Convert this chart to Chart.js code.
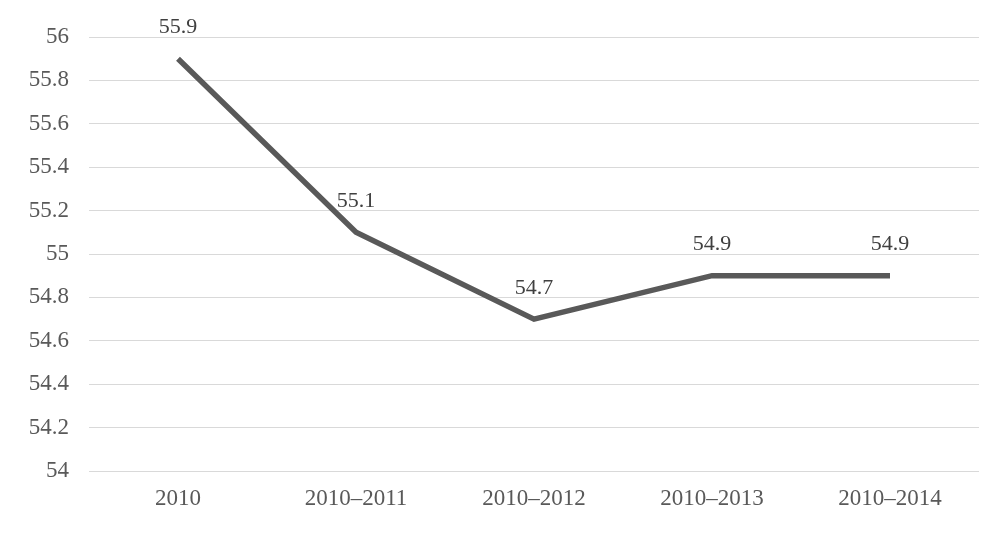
<!DOCTYPE html>
<html>
<head>
<meta charset="utf-8">
<script src="https://cdn.jsdelivr.net/npm/chart.js@4/dist/chart.umd.min.js"></script>
<style>
html,body{margin:0;padding:0;background:#fff;}
#wrap{width:1007px;height:534px;}
</style>
</head>
<body>
<div id="wrap"><canvas id="c" width="1007" height="534"></canvas></div>
<script>
const categories = ['2010', '2010–2011', '2010–2012', '2010–2013', '2010–2014'];
const values = [55.9, 55.1, 54.7, 54.9, 54.9];
const yMin = 54, yMax = 56, yStep = 0.2;

const labelPlugin = {
  id: 'pointLabels',
  afterDatasetsDraw(chart) {
    const ctx = chart.ctx;
    const meta = chart.getDatasetMeta(0);
    ctx.save();
    ctx.font = '22px "Liberation Serif", "Times New Roman", serif';
    ctx.fillStyle = '#404040';
    ctx.textAlign = 'center';
    ctx.textBaseline = 'middle';
    meta.data.forEach((pt, i) => {
      ctx.fillText(String(values[i]), pt.x, pt.y - 31);
    });
    ctx.restore();
  }
};

new Chart(document.getElementById('c'), {
  type: 'line',
  data: {
    labels: categories,
    datasets: [{
      data: values,
      borderColor: '#595959',
      borderWidth: 5.5,
      pointRadius: 0,
      tension: 0,
      borderCapStyle: 'butt',
      borderJoinStyle: 'miter'
    }]
  },
  options: {
    responsive: false,
    animation: false,
    layout: { padding: { top: 37, right: 28, left: 0, bottom: 0 } },
    plugins: { legend: { display: false }, tooltip: { enabled: false } },
    scales: {
      x: {
        offset: true,
        grid: { display: false, drawTicks: false },
        border: { display: false },
        ticks: { color: '#595959', font: { family: '"Liberation Serif", serif', size: 23 }, padding: 14, maxRotation: 0 },
        afterFit(s) { s.height = 63; }
      },
      y: {
        min: yMin, max: yMax,
        grid: { color: '#d9d9d9', lineWidth: 1, drawTicks: false },
        border: { display: false },
        ticks: { stepSize: yStep, color: '#595959', font: { family: '"Liberation Serif", serif', size: 23 }, padding: 20,
          callback: v => String(Math.round(v * 10) / 10) },
        afterFit(s) { s.width = 89; }
      }
    }
  },
  plugins: [labelPlugin]
});
</script>
</body>
</html>
